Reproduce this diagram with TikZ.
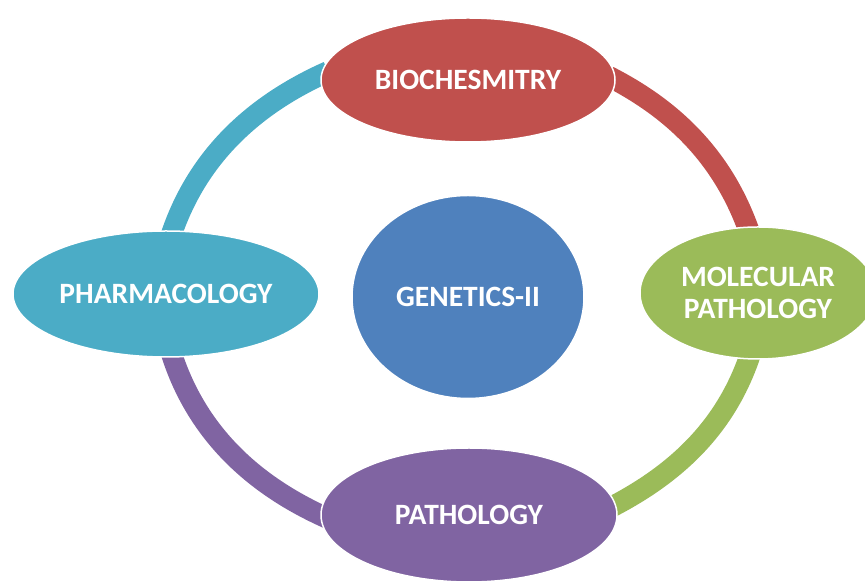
\documentclass[tikz,border=0pt]{standalone}
\usepackage{fontspec}
\setmainfont{Carlito}
\usetikzlibrary{shapes,backgrounds}
\definecolor{bioRed}{HTML}{C0504D}
\definecolor{molGreen}{HTML}{9BBB59}
\definecolor{pathPurple}{HTML}{8064A2}
\definecolor{pharmAqua}{HTML}{4BACC6}
\definecolor{genBlue}{HTML}{4F81BD}
\tikzstyle{topic}=[ellipse,draw=white,line width=1.5pt,text=white,inner sep=0pt,align=center,font=\fontsize{29.5}{31.5}\selectfont\bfseries]
\tikzstyle{cyclearc}=[line width=21pt,shorten <=-8pt,shorten >=-8pt]

\begin{document}
\begin{tikzpicture}[x=1pt,y=1pt]

  \useasboundingbox (0,0) rectangle (865,586);

  % outer subjects
  \foreach \name/\pos/\w/\h/\col/\label in {bio/{468,506}/294/124/bioRed/BIOCHESMITRY,
      mol/{758,293}/236/132/molGreen/{MOLECULAR\\PATHOLOGY},
      path/{469,71}/296/134/pathPurple/PATHOLOGY,
      pharm/{166,292}/306/126/pharmAqua/PHARMACOLOGY}
    \node[topic, fill=\col, minimum width=\w, minimum height=\h] (\name) at (\pos) {\label};

  \node[topic, fill=genBlue, minimum width=232, minimum height=203] (gen) at (468,289) {GENETICS-II};

  % ring pieces behind the subjects
  \begin{scope}[on background layer]
    \draw[cyclearc, bioRed] (bio.east) to[out=-27, in=109, looseness=0.9] (mol.99);
    \draw[cyclearc, molGreen] (mol.262) to[out=-108, in=27, looseness=0.9] (path.4);
    \draw[cyclearc, pathPurple] (path.west) to[out=156, in=-73, looseness=0.9] (pharm.276);
    \draw[cyclearc, pharmAqua] (pharm.84) to[out=72, in=204, looseness=0.9] (bio.178);
  \end{scope}

\end{tikzpicture}
\end{document}
